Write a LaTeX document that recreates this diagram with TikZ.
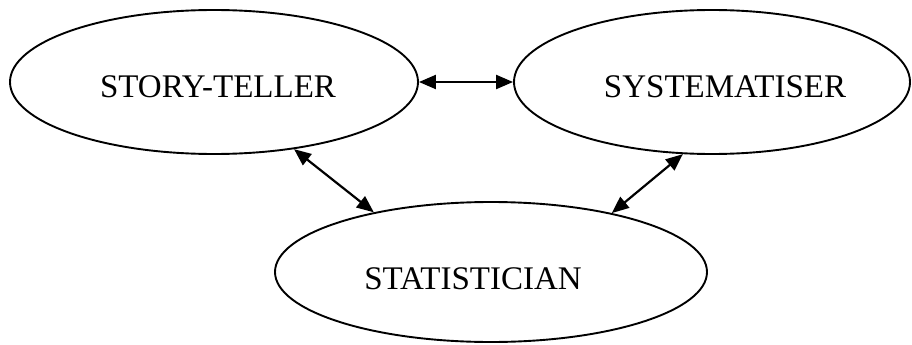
\documentclass[tikz,border=0pt]{standalone}
\usepackage{fontspec}
\setmainfont{Liberation Serif}
\usetikzlibrary{positioning,shapes.geometric,arrows.meta}

\begin{document}
\begin{tikzpicture}
[x=1pt, y=1pt,
    oval/.style={ellipse, draw=black, line width=1.9pt, inner sep=0pt},
    caption/.style={anchor=base, font=\fontsize{33}{40}\selectfont},
    link/.style={{Triangle[length=17pt,width=14pt]}-{Triangle[length=17pt,width=14pt]},
        line width=2.2pt}
    ]
    \useasboundingbox (0,0) rectangle (912,-345);

    % the three roles
    \node [oval, minimum width=408pt, minimum height=144pt] (teller) at (214,-82) {};
    \node [oval, minimum width=396pt, minimum height=144pt] (system) at (712,-82) {};
    \node [oval, minimum width=432pt, minimum height=140pt] (statist) at (491,-272) {};

    \node [caption] (teller-txt) at (218,-97) {STORY-TELLER};
    \node [caption] (system-txt) at (725,-97) {SYSTEMATISER};
    \node [caption] (statist-txt) at (473,-289) {STATISTICIAN};

    % links
    \draw [link] (teller.east) -- (system.west);
    \draw [link] (teller.-40) -- (statist.153);
    \draw [link] (system.-112) -- (statist.26);
\end{tikzpicture}
\end{document}
